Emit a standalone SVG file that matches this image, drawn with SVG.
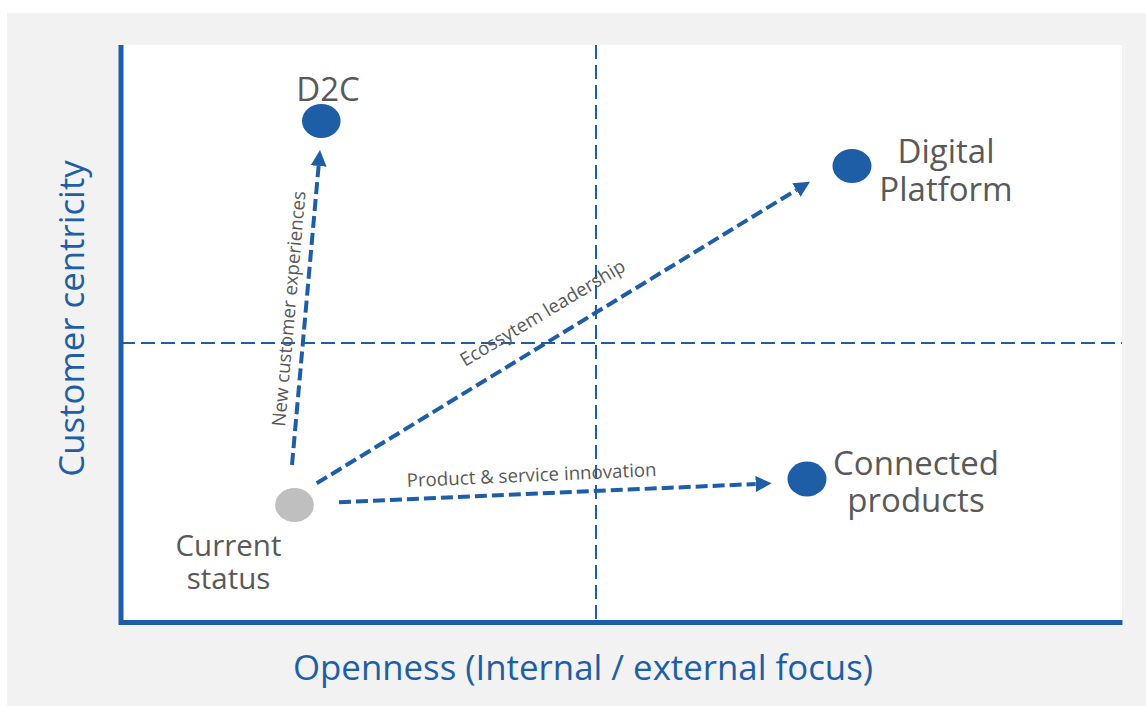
<svg xmlns="http://www.w3.org/2000/svg" width="1146" height="706" viewBox="0 0 1146 706">
<defs>
<style>
.lbl{font-family:"Open Sans","Liberation Sans",sans-serif;fill:#595959;}
.node{font-size:33px;text-anchor:middle;}
.axis{font-family:"Open Sans","Liberation Sans",sans-serif;fill:#1d5ea7;font-size:34.8px;text-anchor:middle;}
.edge{font-size:18.7px;}
.grid{stroke:#1d5ea7;stroke-width:2;stroke-dasharray:14 6;fill:none;}
.conn{stroke:#1d5ea7;stroke-width:4;stroke-dasharray:12 5;fill:none;marker-end:url(#ah);}
.dot{fill:#1d5ea7;}
</style>
<marker id="ah" viewBox="0 0 16 16" markerWidth="16" markerHeight="16" markerUnits="userSpaceOnUse" refX="0" refY="8" orient="auto">
<path d="M0,0 L16,8 L0,16 z" fill="#1d5ea7"/>
</marker>
</defs>
<rect x="7" y="13" width="1139" height="693" fill="#f2f2f2"/>
<rect x="121" y="45" width="1001" height="577" fill="#ffffff"/>
<g id="axes">
<line x1="596" y1="45" x2="596" y2="620" class="grid"/>
<line x1="121" y1="343" x2="1122" y2="343" class="grid"/>
<path d="M121,45 L121,622.5 L1122.5,622.5" fill="none" stroke="#1d5ea7" stroke-width="5"/>
<text class="axis" transform="translate(84,318.5) rotate(-90)" x="0" y="0">Customer centricity</text>
<text class="axis" x="583" y="680">Openness (Internal / external focus)</text>
</g>
<g id="connectors">
<line class="conn" x1="292" y1="465" x2="318.6" y2="166"/>
<line class="conn" x1="316.7" y1="483.3" x2="796.4" y2="190"/>
<line class="conn" x1="339" y1="502.3" x2="755.7" y2="484"/>
<text class="lbl edge" transform="translate(285,427) rotate(-85)">New customer experiences</text>
<text class="lbl edge" transform="translate(465,367) rotate(-31)">Ecossytem leadership</text>
<text class="lbl edge" transform="translate(407,487) rotate(-2.5)">Product &amp; service innovation</text>
</g>
<g id="node-current">
<ellipse cx="294.5" cy="505" rx="19.3" ry="17" fill="#bfbfbf"/>
<text class="lbl" style="font-size:29.5px;text-anchor:middle" x="228.5" y="556">Current</text>
<text class="lbl" style="font-size:29.5px;text-anchor:middle" x="228.5" y="589">status</text>
</g>
<g id="node-d2c">
<ellipse class="dot" cx="321.3" cy="121" rx="19.3" ry="17"/>
<text class="lbl node" x="328" y="101">D2C</text>
</g>
<g id="node-digital">
<ellipse class="dot" cx="852" cy="166" rx="19.5" ry="17"/>
<text class="lbl node" x="946" y="163">Digital</text>
<text class="lbl node" x="946" y="201">Platform</text>
</g>
<g id="node-connected">
<ellipse class="dot" cx="807" cy="479" rx="19.5" ry="17.5"/>
<text class="lbl node" x="916" y="475">Connected</text>
<text class="lbl node" x="916" y="512">products</text>
</g>
</svg>
